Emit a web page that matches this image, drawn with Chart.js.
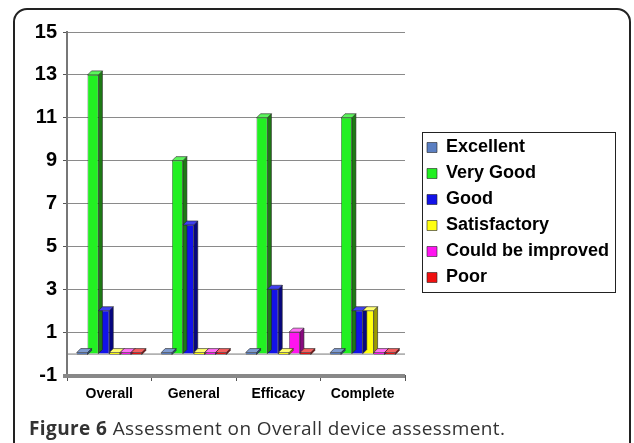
<!DOCTYPE html>
<html lang="en">
<head>
	<meta charset="utf-8">
	<title>Assessment on Overall device assessment</title>
	<style>
body {
	margin: 0;
	background: #fff;
	overflow: hidden;
}
#frame {
	position: absolute;
	left: 13px;
	top: 8px;
	width: 614px;
	height: 480px;
	border: 2px solid #222;
	border-radius: 14px;
}
#chartWrapper {
	position: absolute;
	left: 0;
	top: 0;
	width: 634px;
	height: 443px;
}
#caption {
	position: absolute;
	left: 29px;
	top: 415px;
	font-family: "Open Sans", sans-serif;
	font-size: 19px;
	letter-spacing: 0.4px;
	line-height: 26px;
	color: #333;
	white-space: nowrap;
}
#caption b {
	font-weight: 700;
}
	</style>
</head>
<body>

<div id="frame"></div>
<div id="chartWrapper">
  <canvas id="myChart"></canvas>
</div>
<div id="caption"><b>Figure 6</b> Assessment on Overall device assessment.</div>

<script src="https://cdn.jsdelivr.net/npm/chart.js"></script>
<script>
const categories = ['Overall', 'General', 'Efficacy', 'Complete'];
const seriesNames = ['Excellent', 'Very Good', 'Good', 'Satisfactory', 'Could be improved', 'Poor'];
const excellent = [0, 0, 0, 0];
const veryGood = [13, 9, 11, 11];
const good = [2, 6, 3, 2];
const satisfactory = [0, 0, 0, 2];
const couldBeImproved = [0, 0, 1, 0];
const poor = [0, 0, 0, 0];
const yTicks = [-1, 1, 3, 5, 7, 9, 11, 13, 15];

const fills = ['#5b7fc2', '#22f022', '#1212e8', '#ffff10', '#ff14f0', '#f01010'];
const sides = ['#2c4a80', '#1d7a14', '#060680', '#9a9a00', '#8a0a80', '#8a0606'];
const tops = ['#7f9bd0', '#5cf55c', '#4040f0', '#ffff70', '#ff70f5', '#f56060'];

const threeD = {
	id: 'threeD',
	afterInit(chart) {
		// widen the legend column so the plot stops where the original does
		const lg = chart.legend;
		const orig = lg.fit.bind(lg);
		lg.fit = function () {
			orig();
			this.width = 210;
		};
	},
	afterUpdate(chart) {
		const lg = chart.legend;
		lg.left += 14;
		lg.right += 14;
		lg.top -= 5;
		lg.bottom -= 5;
		lg.adjustHitBoxes();
	},
	beforeDatasetsDraw(chart) {
		const {ctx, chartArea, scales} = chart;
		const y0 = scales.y.getPixelForValue(0);
		const yb = scales.y.getPixelForValue(-1);
		ctx.save();
		ctx.strokeStyle = '#777';
		ctx.lineWidth = 1;
		ctx.beginPath();
		ctx.moveTo(chartArea.left, y0 + 0.5);
		ctx.lineTo(chartArea.right, y0 + 0.5);
		ctx.stroke();
		ctx.fillStyle = '#888';
		ctx.fillRect(chartArea.left - 4, yb - 1, chartArea.right - chartArea.left + 4, 4);
		ctx.restore();
	},
	afterDatasetsDraw(chart) {
		const ctx = chart.ctx;
		const d = 4;
		chart.data.datasets.forEach((ds, i) => {
			const meta = chart.getDatasetMeta(i);
			meta.data.forEach(bar => {
				const p = bar.getProps(['x', 'y', 'base', 'width'], true);
				const l = p.x - p.width / 2, r = p.x + p.width / 2;
				const t = Math.min(p.y, p.base), b = Math.max(p.y, p.base);
				ctx.save();
				ctx.strokeStyle = '#222';
				ctx.lineWidth = 0.6;
				ctx.fillStyle = sides[i];
				ctx.beginPath();
				ctx.moveTo(r, t);
				ctx.lineTo(r + d, t - d);
				ctx.lineTo(r + d, b - d);
				ctx.lineTo(r, b);
				ctx.closePath();
				ctx.fill();
				ctx.stroke();
				ctx.fillStyle = tops[i];
				ctx.beginPath();
				ctx.moveTo(l, t);
				ctx.lineTo(l + d, t - d);
				ctx.lineTo(r + d, t - d);
				ctx.lineTo(r, t);
				ctx.closePath();
				ctx.fill();
				ctx.stroke();
				ctx.restore();
			});
		});
	},
	afterDraw(chart) {
		// box round the legend items
		const lg = chart.legend;
		const pad = lg.options.labels.padding;
		const colH = lg.columnSizes && lg.columnSizes.length ? lg.columnSizes[0].height : 156;
		const startY = (lg.top + pad + lg.bottom - colH) / 2;
		const x1 = Math.round(lg.left + pad - 5) + 0.5;
		const y1 = Math.round(startY - 7) + 0.5;
		const ctx = chart.ctx;
		ctx.save();
		ctx.strokeStyle = '#222';
		ctx.lineWidth = 1;
		ctx.strokeRect(x1, y1, 193, Math.round(colH + 4));
		ctx.restore();
	}
};

const allValues = [excellent, veryGood, good, satisfactory, couldBeImproved, poor];

const ctx = document.getElementById('myChart');

new Chart(ctx, {
	type: 'bar',
	data: {
		labels: categories,
		datasets: seriesNames.map((name, i) => ({
			label: name,
			data: allValues[i],
			backgroundColor: fills[i],
			borderColor: '#222',
			borderWidth: 0.6,
			minBarLength: 2,
			barPercentage: 1,
			categoryPercentage: 0.77
		}))
	},
	options: {
		responsive: true,
		maintainAspectRatio: false,
		animation: false,
		layout: {
			padding: {left: 20, top: 32, right: 19, bottom: 40}
		},
		plugins: {
			legend: {
				position: 'right',
				labels: {
					boxWidth: 10,
					boxHeight: 10,
					padding: 8,
					color: '#000',
					font: {family: 'Liberation Sans, Arial', size: 18, weight: 'bold', lineHeight: 1.1}
				}
			},
			tooltip: {enabled: false}
		},
		scales: {
			y: {
				min: -1,
				max: 15,
				afterBuildTicks(scale) {
					scale.ticks = yTicks.map(v => ({value: v}));
				},
				afterFit(scale) {
					scale.width = 47;
				},
				grid: {
					color: '#8a8a8a',
					tickLength: 4,
					tickColor: '#555'
				},
				border: {color: '#777', width: 2},
				ticks: {
					color: '#000',
					padding: 6,
					font: {family: 'Liberation Sans, Arial', size: 20, weight: 'bold'}
				}
			},
			x: {
				afterFit(scale) {
					scale.height = 28;
				},
				grid: {
					drawOnChartArea: false,
					tickLength: 6,
					tickColor: '#555'
				},
				border: {display: false},
				ticks: {
					color: '#000',
					padding: 5,
					font: {family: 'Liberation Sans, Arial', size: 14, weight: 'bold'}
				}
			}
		}
	},
	plugins: [threeD]
});
</script>
</body>
</html>
